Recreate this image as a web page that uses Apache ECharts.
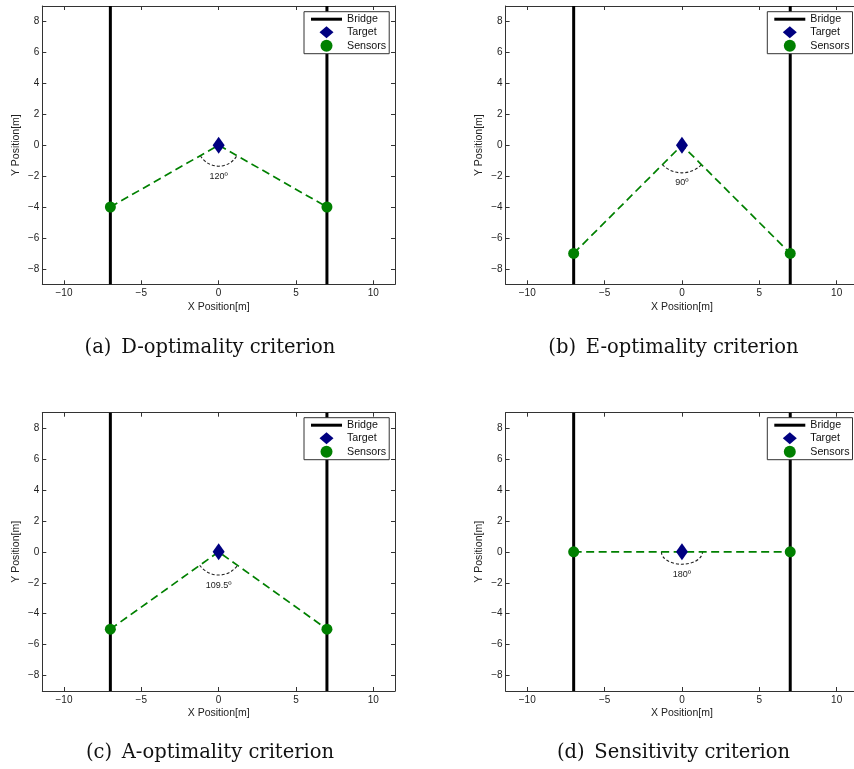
<!DOCTYPE html>
<html>
<head>
<meta charset="utf-8">
<title>Sensor placement criteria</title>
<script src="https://cdn.jsdelivr.net/npm/echarts@6/dist/echarts.min.js"></script>
<style>
  html, body { margin: 0; padding: 0; background: #fff; }
  #chart { width: 854px; height: 769px; }
</style>
</head>
<body>
<div id="chart"></div>
<script>
// ---- data ----
const captions = [
  '(a)\u2002D-optimality criterion',
  '(b)\u2002E-optimality criterion',
  '(c)\u2002A-optimality criterion',
  '(d)\u2002Sensitivity criterion'
];
const bridgeX = [-7, 7];
const targetPos = [0, 0];
const sensorLeft = [[-7, -4], [-7, -7], [-7, -5], [-7, 0]];
const sensorRight = [[7, -4], [7, -7], [7, -5], [7, 0]];
const angleDeg = [120, 90, 109.5, 180];
const angleLabels = ['120\u00ba', '90\u00ba', '109.5\u00ba', '180\u00ba'];
const arcRx = [1.36, 1.79, 1.5, 1.33];
const arcRy = [1.36, 1.79, 1.5, 0.8];
const xRange = [-11.4, 11.4];
const yRange = [-9, 9];
const xTicks = [-10, -5, 0, 5, 10];
const xTickLabels = ['\u221210', '\u22125', '0', '5', '10'];
const yTicks = [-8, -6, -4, -2, 0, 2, 4, 6, 8];
const yTickLabels = ['\u22128', '\u22126', '\u22124', '\u22122', '0', '2', '4', '6', '8'];

// legend entries with their icon shapes
const legendItems = [
  { name: 'Bridge', icon: 'path://M0,0H31V3H0Z' },
  { name: 'Target', icon: 'path://M7,0L14,6L7,12L0,6Z' },
  { name: 'Sensors', icon: 'circle' }
];

// ---- layout ----
const gridLeft = [42.3, 505.6, 42.3, 505.6];
const gridTop = [6, 6, 412.7, 412.7];
const gridW = 352.7, gridH = 278.3;
const legendLeft = [304, 767.3, 304, 767.3];
const legendTop = [11.7, 11.7, 417.7, 417.7];
const captionX = [210, 673.5, 210, 673.5];
const captionY = [348.3, 348.3, 752.5, 752.5];

const SANS = '"Liberation Sans", Arial, sans-serif';
const AXIS_COLOR = '#333';
const TEXT_COLOR = '#222';

const grids = [], xAxes = [], yAxes = [], series = [], legends = [], graphics = [];

gridLeft.forEach((gl, i) => {
  grids.push({
    left: gl, top: gridTop[i], width: gridW, height: gridH,
    containLabel: false, outerBoundsMode: 'none'
  });

  const tickStyle = { inside: true, length: 4, lineStyle: { color: AXIS_COLOR, width: 1 } };
  const lineStyle = { onZero: false, lineStyle: { color: AXIS_COLOR, width: 1 } };

  // bottom + top x axes
  xAxes.push({
    gridIndex: i, type: 'value', position: 'bottom',
    min: xRange[0], max: xRange[1],
    axisLine: lineStyle,
    axisTick: Object.assign({ customValues: xTicks }, tickStyle),
    axisLabel: {
      customValues: xTicks, margin: 4, fontSize: 10, fontFamily: SANS, color: TEXT_COLOR,
      formatter: v => xTickLabels[xTicks.indexOf(v)]
    },
    splitLine: { show: false },
    name: 'X Position[m]', nameLocation: 'middle', nameGap: 17,
    nameTextStyle: { fontSize: 10.5, fontFamily: SANS, color: TEXT_COLOR }
  });
  xAxes.push({
    gridIndex: i, type: 'value', position: 'top',
    min: xRange[0], max: xRange[1],
    axisLine: lineStyle,
    axisTick: Object.assign({ customValues: xTicks }, tickStyle),
    axisLabel: { show: false },
    splitLine: { show: false }
  });

  // left + right y axes
  yAxes.push({
    gridIndex: i, type: 'value', position: 'left',
    min: yRange[0], max: yRange[1],
    axisLine: lineStyle,
    axisTick: Object.assign({ customValues: yTicks }, tickStyle),
    axisLabel: {
      customValues: yTicks, margin: 3, fontSize: 10, fontFamily: SANS, color: TEXT_COLOR,
      formatter: v => yTickLabels[yTicks.indexOf(v)]
    },
    splitLine: { show: false },
    name: 'Y Position[m]', nameLocation: 'middle', nameGap: 21, nameRotate: 90,
    nameTextStyle: { fontSize: 10.5, fontFamily: SANS, color: TEXT_COLOR }
  });
  yAxes.push({
    gridIndex: i, type: 'value', position: 'right',
    min: yRange[0], max: yRange[1],
    axisLine: lineStyle,
    axisTick: Object.assign({ customValues: yTicks }, tickStyle),
    axisLabel: { show: false },
    splitLine: { show: false }
  });

  const xi = i * 2, yi = i * 2;

  // bridge edges
  bridgeX.forEach(bx => {
    series.push({
      type: 'line', name: 'Bridge', xAxisIndex: xi, yAxisIndex: yi,
      data: [[bx, yRange[0]], [bx, yRange[1]]],
      symbol: 'none', silent: true,
      itemStyle: { color: '#000' },
      lineStyle: { color: '#000', width: 3 }
    });
  });

  // sight lines from the sensors to the target
  series.push({
    type: 'line', name: 'link', xAxisIndex: xi, yAxisIndex: yi,
    data: [sensorLeft[i], targetPos, sensorRight[i]],
    symbol: 'none', silent: true,
    lineStyle: { color: '#008000', width: 1.7, type: [8, 4.5] }
  });

  // angle arc and its label
  series.push({
    type: 'custom', name: 'angle', xAxisIndex: xi, yAxisIndex: yi,
    silent: true, z: 3,
    data: [[targetPos[0], targetPos[1], arcRx[i], arcRy[i], angleDeg[i]]],
    renderItem: (params, api) => {
      const c = api.coord([api.value(0), api.value(1)]);
      const s = api.size([api.value(2), api.value(3)]);
      const rx = s[0], ry = s[1];
      const half = api.value(4) / 2 * Math.PI / 180;
      const x1 = c[0] - rx * Math.sin(half);
      const x2 = c[0] + rx * Math.sin(half);
      const y1 = c[1] + ry * Math.cos(half);
      return {
        type: 'group',
        children: [
          {
            type: 'path',
            shape: { pathData: `M${x1} ${y1} A${rx} ${ry} 0 0 0 ${x2} ${y1}` },
            style: { fill: 'none', stroke: '#222', lineWidth: 1.1, lineDash: [3, 2] }
          },
          {
            type: 'text',
            style: {
              text: angleLabels[i], x: c[0], y: c[1] + ry + 10,
              align: 'center', verticalAlign: 'middle',
              textAlign: 'center', textVerticalAlign: 'middle',
              font: '9px ' + SANS, fill: '#222'
            }
          }
        ]
      };
    }
  });

  series.push({
    type: 'scatter', name: 'Sensors', xAxisIndex: xi, yAxisIndex: yi,
    data: [sensorLeft[i], sensorRight[i]],
    symbol: 'circle', symbolSize: 11, silent: true, z: 4,
    itemStyle: { color: '#008000', opacity: 1 }
  });

  series.push({
    type: 'scatter', name: 'Target', xAxisIndex: xi, yAxisIndex: yi,
    data: [targetPos],
    symbol: 'diamond', symbolSize: [12, 17], silent: true, z: 5,
    itemStyle: { color: '#000080', opacity: 1 }
  });

  legends.push({
    orient: 'vertical', left: legendLeft[i], top: legendTop[i],
    data: legendItems, selectedMode: false,
    itemWidth: 31, itemHeight: 12, itemGap: 1.5,
    symbolKeepAspect: true,
    padding: [2, 3, 2, 7],
    backgroundColor: '#fff', borderColor: '#333', borderWidth: 1, borderRadius: 0,
    textStyle: { fontSize: 10.7, fontFamily: SANS, color: '#111' }
  });

  graphics.push({
    type: 'text', x: captionX[i], y: captionY[i],
    style: {
      text: captions[i],
      align: 'center', verticalAlign: 'middle',
      textAlign: 'center', textVerticalAlign: 'middle',
      font: '19.5px "DejaVu Serif", serif', fill: '#111'
    }
  });
});

const chart = echarts.init(document.getElementById('chart'), null, { renderer: 'canvas' });
chart.setOption({
  animation: false,
  backgroundColor: '#fff',
  grid: grids,
  xAxis: xAxes,
  yAxis: yAxes,
  legend: legends,
  series: series,
  graphic: graphics
});
</script>
</body>
</html>
